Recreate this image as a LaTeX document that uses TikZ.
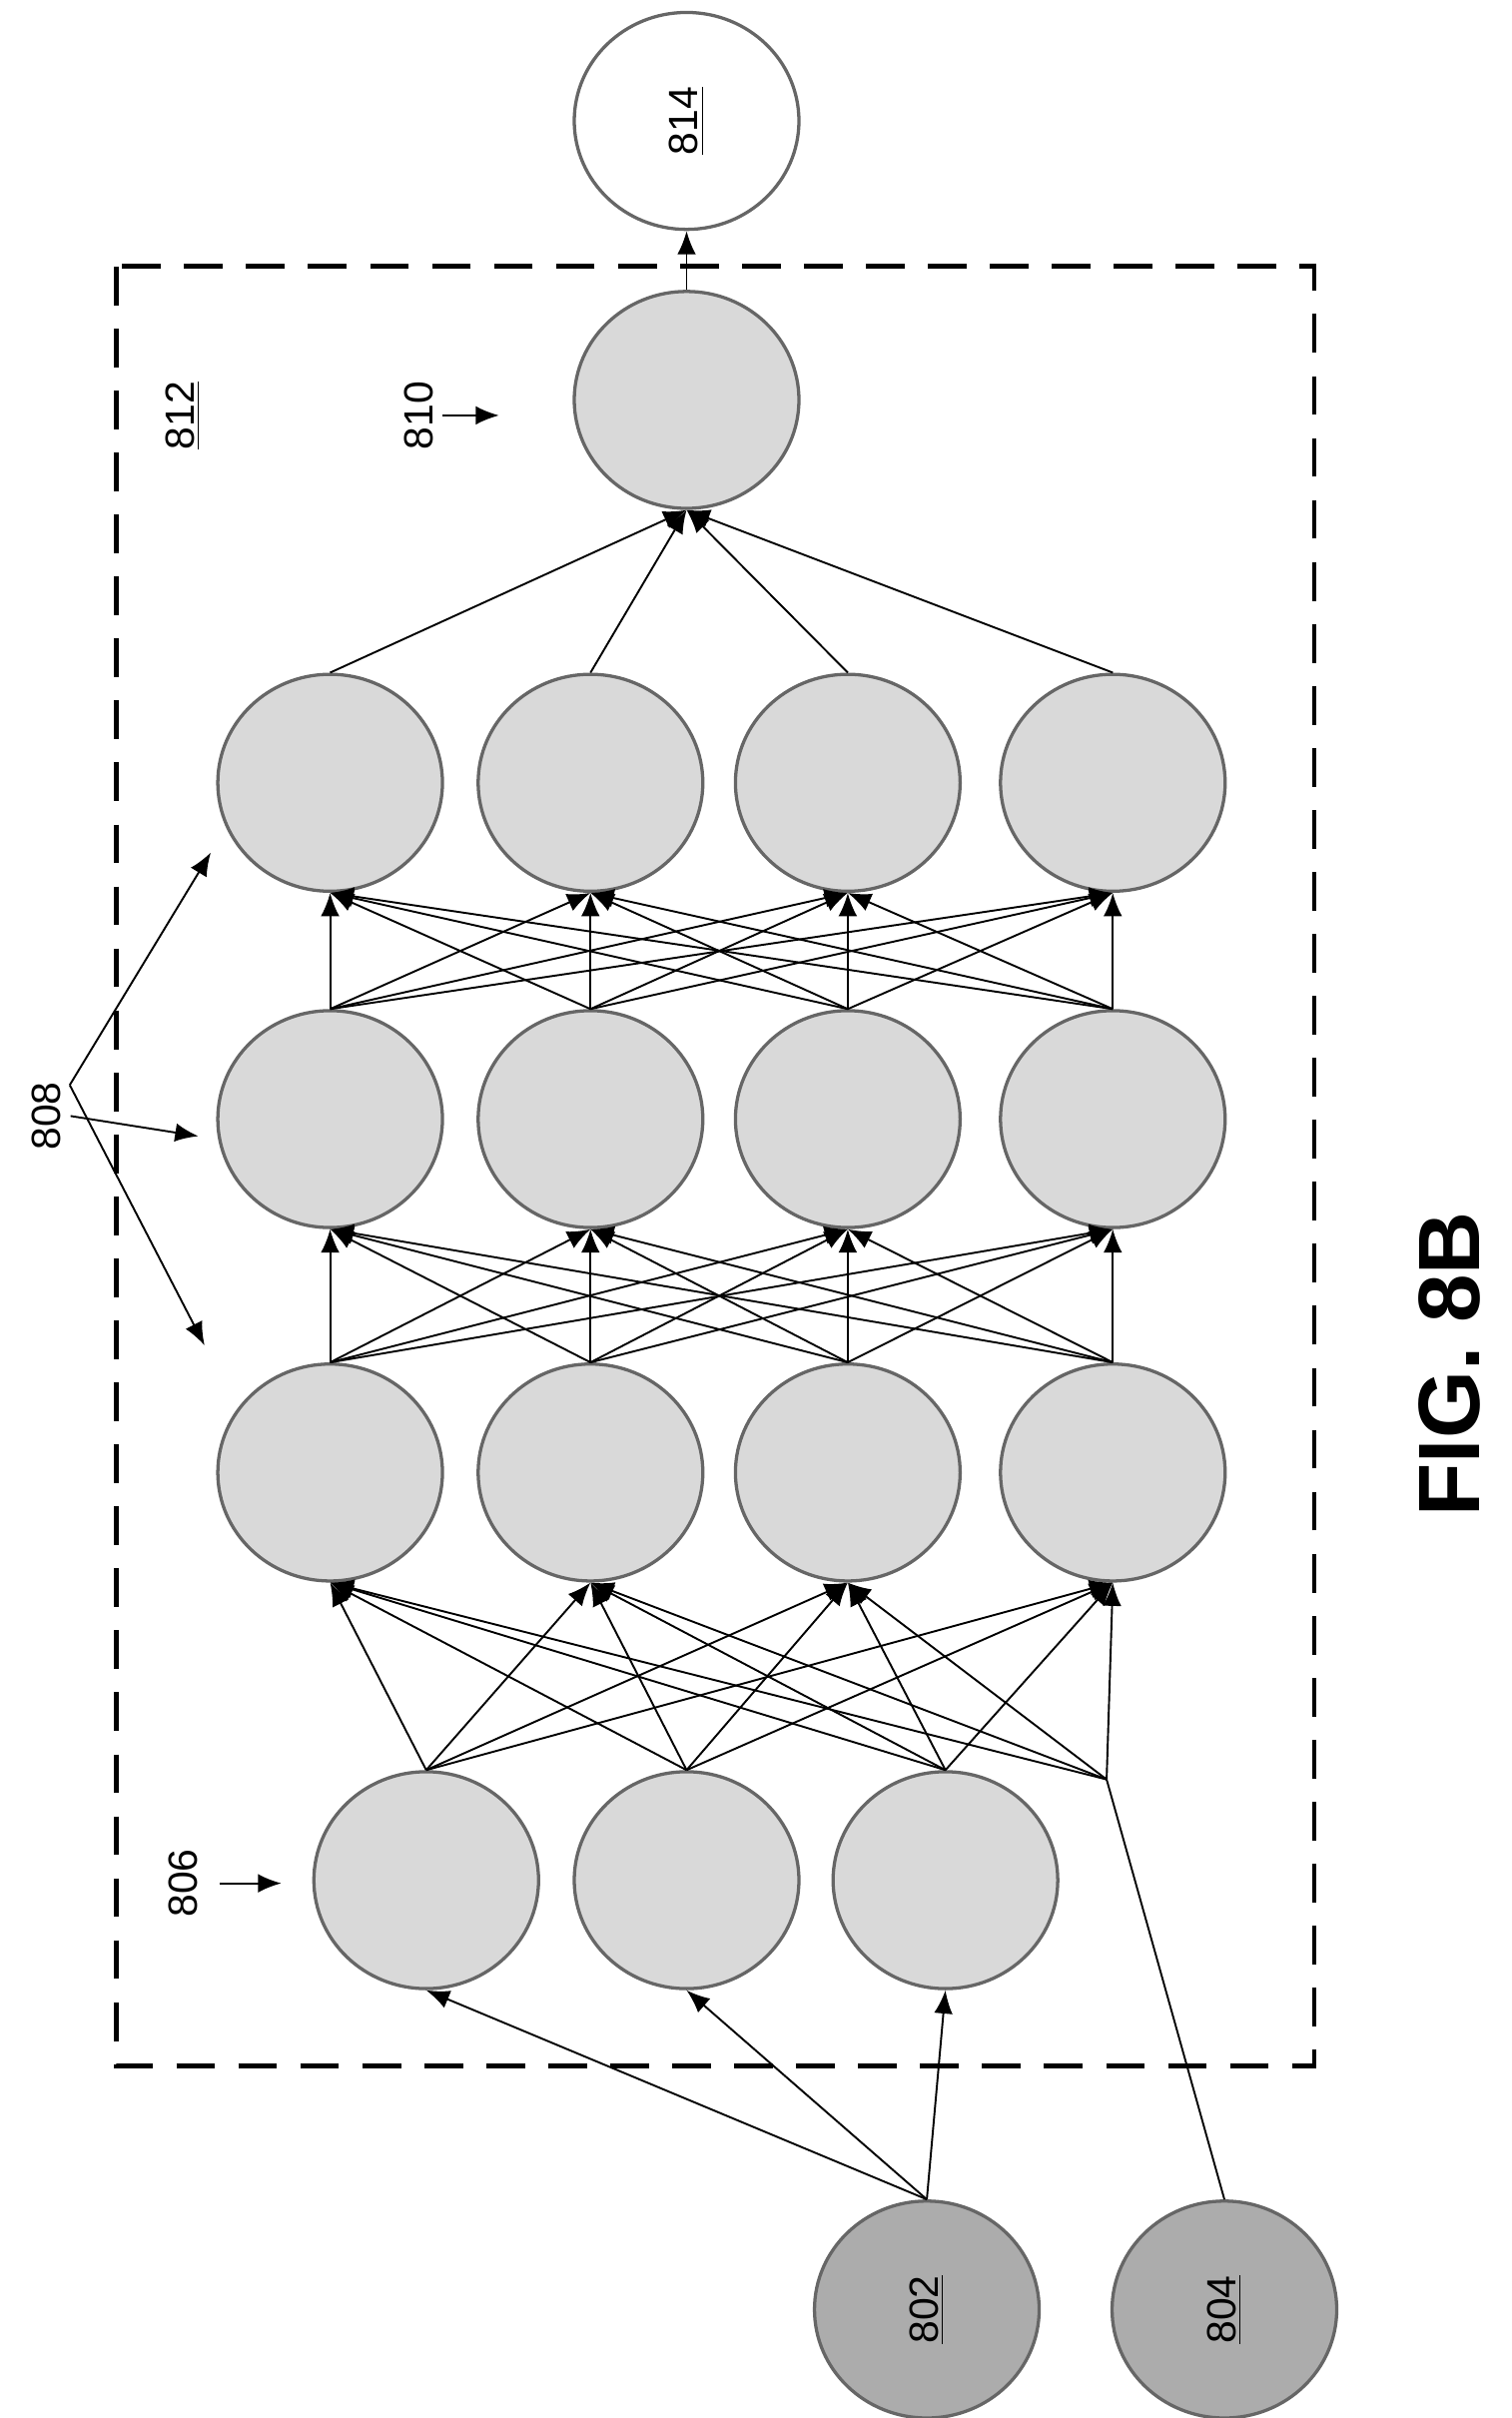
\documentclass[tikz,border=0pt]{standalone}
\usepackage{fontspec}
\setmainfont{Liberation Sans}
\usetikzlibrary{arrows.meta}
\tikzset{
  neuron/.style={ellipse, draw=gray!80!black, line width=1.2pt, fill=gray!30, minimum width=2.9cm, minimum height=2.8cm, inner sep=0pt},
  source/.style={neuron, fill=gray!65},
  sink/.style={neuron, fill=white},
  conn/.style={-{Latex[length=3mm,width=2.4mm]}, line width=0.7pt},
  lbl/.style={rotate=90, font=\fontsize{15}{17}\selectfont},
}
\usetikzlibrary{shapes.geometric}
\begin{document}
\begin{tikzpicture}[x=0.02cm,y=-0.02cm]
  \useasboundingbox (0,0) rectangle (975,1560);
  % frame
  \draw [dashed, line width=1.8pt, dash pattern=on 5mm off 3mm] (75,172) rectangle (848,1333);
  % nodes
  \node [sink] (n814) at (443,78) {\rotatebox{90}{\fontsize{15}{17}\selectfont\underline{814}}};
  \node [neuron] (out) at (443,258) {};
  \foreach \j/\x in {1/213,2/381,3/547,4/718} {
    \node [neuron] (a\j) at (\x,950) {};
    \node [neuron] (b\j) at (\x,722) {};
    \node [neuron] (c\j) at (\x,505) {};
  }
  \foreach \i/\x in {1/275,2/443,3/610}
    \node [neuron] (in\i) at (\x,1213) {};
  \node [source] (n802) at (598,1490) {\rotatebox{90}{\fontsize{15}{17}\selectfont\underline{802}}};
  \node [source] (n804) at (790,1490) {\rotatebox{90}{\fontsize{15}{17}\selectfont\underline{804}}};
  \coordinate (split) at (714,1148);

  % inputs -> first layer
  \foreach \i in {1,2,3} {
    \draw [conn] (n802.north) -- (in\i.south);
    \foreach \j in {1,2,3,4}
      \draw [conn] (in\i.north) -- (a\j.south);
  }
  \draw [line width=0.7pt] (n804.north) -- (split);
  \foreach \j in {1,2,3,4}
    \draw [conn] (split) -- (a\j.south);
  % hidden layers
  \foreach \i in {1,2,3,4}
    \foreach \j in {1,2,3,4} {
      \draw [conn] (a\i.north) -- (b\j.south);
      \draw [conn] (b\i.north) -- (c\j.south);
    }
  \foreach \j in {1,2,3,4}
    \draw [conn] (c\j.north) -- (out.south);
  \draw [conn] (out.north) -- (n814.south);

  % labels
  \node [lbl] (l806) at (118,1215) {806};
  \draw [conn] (l806.south) ++(8,0) coordinate (t806) -- ++(40,0);
  \node [lbl] (l808) at (30,720) {808};
  \coordinate (h808) at (45,700);
  \draw [conn] (l808.south) -- (128,733);
  \draw [conn] (h808) -- (136,550);
  \draw [conn] (h808) -- (132,868);
  \node [lbl] (l810) at (270,268) {810};
  \draw [conn] (l810.south) -- (322,268);
  \node [lbl] (l812) at (118,268) {\underline{812}};
  \node [rotate=90, font=\bfseries\fontsize{32}{36}\selectfont] (fig) at (935,880) {FIG. 8B};
\end{tikzpicture}
\end{document}
